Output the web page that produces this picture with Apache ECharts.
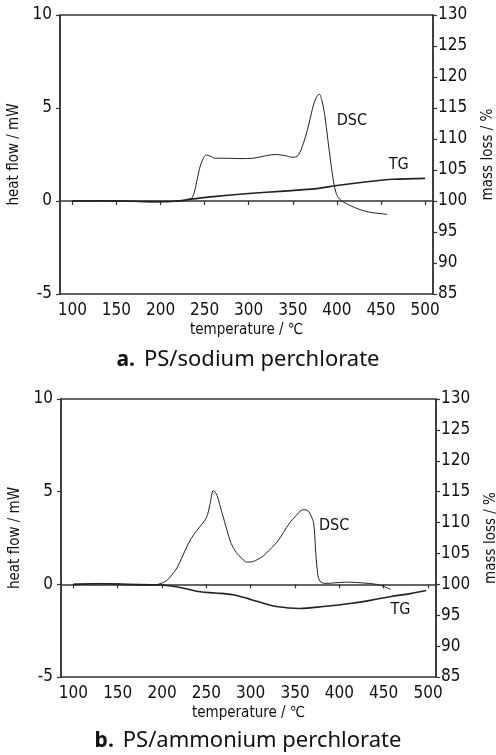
<!DOCTYPE html>
<html><head><meta charset="utf-8">
<script src="https://cdn.jsdelivr.net/npm/echarts@6/dist/echarts.min.js"></script>
<style>html,body{margin:0;padding:0;background:#fff}#c{width:496px;height:755px}</style>
</head><body><div id="c"></div>
<script>
// ---- data ----
var xTicks = [100,150,200,250,300,350,400,450,500];
var leftTicks = [-5,0,5,10];
var rightTicks = [85,90,95,100,105,110,115,120,125,130];

var dscA = [[100,0],[130,0.02],[160,0],[190,-0.05],[215,-0.03],[230,0.05],[236,0.2],[240,0.8],[244,1.7],[248,2.25],[252,2.47],[256,2.42],[262,2.3],[275,2.3],[290,2.28],[305,2.3],[318,2.42],[330,2.5],[340,2.45],[350,2.35],[356,2.45],[362,3.1],[367,3.9],[372,4.9],[376,5.5],[380,5.74],[383,5.4],[386,4.7],[390,3.2],[393,2.1],[396,1.1],[399,0.45],[403,0.1],[410,-0.12],[420,-0.35],[430,-0.52],[441,-0.63],[450,-0.68],[457,-0.72]];
var tgA = [[100,100],[150,100],[190,99.9],[215,99.95],[235,100.3],[260,100.7],[300,101.2],[340,101.6],[377,102.0],[400,102.5],[434,103.1],[464,103.5],[500,103.65]];

var dscB = [[100,0],[130,0.05],[160,0],[180,-0.05],[195,0],[205,0.2],[213,0.63],[217,0.9],[222,1.4],[230,2.24],[236,2.7],[243,3.13],[250,3.6],[254,4.3],[258,5.07],[262,4.8],[265,4.3],[268,3.8],[273,2.96],[278,2.2],[284,1.7],[290,1.4],[296,1.2],[302,1.22],[308,1.35],[314,1.52],[320,1.8],[329,2.24],[337,2.8],[344,3.32],[351,3.7],[357,3.99],[361,4.03],[365,3.95],[368,3.7],[371,3.3],[373,2.0],[375,0.8],[378,0.18],[385,0.05],[395,0.08],[408,0.12],[425,0.08],[442,0],[450,-0.12],[458,-0.27]];
var tgB = [[100,100],[130,100.1],[160,100],[200,99.9],[220,99.5],[243,98.8],[260,98.6],[280,98.3],[299,97.6],[315,96.9],[329,96.4],[355,96.1],[382,96.4],[412,96.9],[435,97.4],[457,98.0],[480,98.5],[498,99.0]];

// label anchors (in data units: temperature, heat flow)
var labelsA = [['DSC',417,4.3],['TG',470,1.94]];
var labelsB = [['DSC',394,3.17],['TG',469,-1.4]];

var captions = [['a.','PS/sodium perchlorate'],['b.','PS/ammonium perchlorate']];

// ---- chart ----
var NF = '"DejaVu Sans Condensed","Liberation Sans Narrow","Arial Narrow",sans-serif';
var AX = '#333';
function xAxis(gi){
  return {type:'value', gridIndex:gi, min:86, max:509,
    name:'temperature / ℃', nameLocation:'middle', nameGap:29,
    nameTextStyle:{fontFamily:NF,fontSize:15,color:'#111'},
    axisLine:{show:true,lineStyle:{color:AX,width:1.5}},
    axisTick:{show:true,length:4,lineStyle:{color:AX,width:1.2},customValues:xTicks},
    axisLabel:{fontFamily:NF,fontSize:17,color:'#111',margin:8,customValues:xTicks},
    splitLine:{show:false}};
}
function yLeft(gi){
  return {type:'value', gridIndex:gi, position:'left', min:-5, max:10, interval:5,
    name:'heat flow / mW', nameLocation:'middle', nameGap:29, nameRotate:90,
    nameTextStyle:{fontFamily:NF,fontSize:15,color:'#111'},
    axisLine:{show:true,lineStyle:{color:AX,width:1.5}},
    axisTick:{show:true,length:4,lineStyle:{color:AX,width:1.2}},
    axisLabel:{fontFamily:NF,fontSize:17,color:'#111',margin:8},
    splitLine:{show:false}};
}
function yRight(gi){
  return {type:'value', gridIndex:gi, position:'right', min:85, max:130, interval:5,
    name:'mass loss / %', nameLocation:'middle', nameGap:48, nameRotate:90,
    nameTextStyle:{fontFamily:NF,fontSize:15,color:'#111'},
    axisLine:{show:true,lineStyle:{color:AX,width:1.5}},
    axisTick:{show:true,length:4,lineStyle:{color:AX,width:1.2}},
    axisLabel:{fontFamily:NF,fontSize:17,color:'#111',margin:5},
    splitLine:{show:false}};
}
function labelPts(arr){
  return arr.map(function(l){return {coord:[l[1],l[2]],value:l[0],
    label:{show:true,formatter:l[0],fontFamily:NF,fontSize:16,color:'#111',position:'inside'}};});
}
function lineSeries(data, xi, yi, w, marks){
  var s = {type:'line', xAxisIndex:xi, yAxisIndex:yi, data:data, showSymbol:false, smooth:0.35,
    lineStyle:{color:'#222',width:w}, silent:true, animation:false, z:3};
  if(marks){ s.markPoint = {symbol:'circle',symbolSize:0,data:marks,silent:true,animation:false}; }
  return s;
}
var chart = echarts.init(document.getElementById('c'), null, {renderer:'canvas'});
chart.setOption({
  backgroundColor:'#fff',
  animation:false,
  title: captions.map(function(c,i){
    return {left:'center', top: i===0 ? 344 : 725,
      text:'{b|'+c[0]+'} {t|'+c[1]+'}',
      textStyle:{fontWeight:'normal',rich:{
        b:{fontFamily:'"Noto Sans",sans-serif',fontWeight:'bold',fontSize:21,color:'#111',padding:[0,4,0,0]},
        t:{fontFamily:'"Noto Sans",sans-serif',fontWeight:'normal',fontSize:22,color:'#111'}}}};
  }),
  grid:[
    {left:60, right:63, top:15, height:279, show:true, borderColor:AX, borderWidth:1.5, backgroundColor:'transparent', outerBoundsMode:'none', containLabel:false},
    {left:61, right:60, top:399, height:278, show:true, borderColor:AX, borderWidth:1.5, backgroundColor:'transparent', outerBoundsMode:'none', containLabel:false}
  ],
  xAxis:[xAxis(0), xAxis(1)],
  yAxis:[yLeft(0), yRight(0), yLeft(1), yRight(1)],
  series:[
    lineSeries(dscA,0,0,1,labelPts(labelsA)),
    lineSeries(tgA,0,1,1.6,null),
    lineSeries(dscB,1,2,1,labelPts(labelsB)),
    lineSeries(tgB,1,3,1.6,null)
  ]
});
</script></body></html>
